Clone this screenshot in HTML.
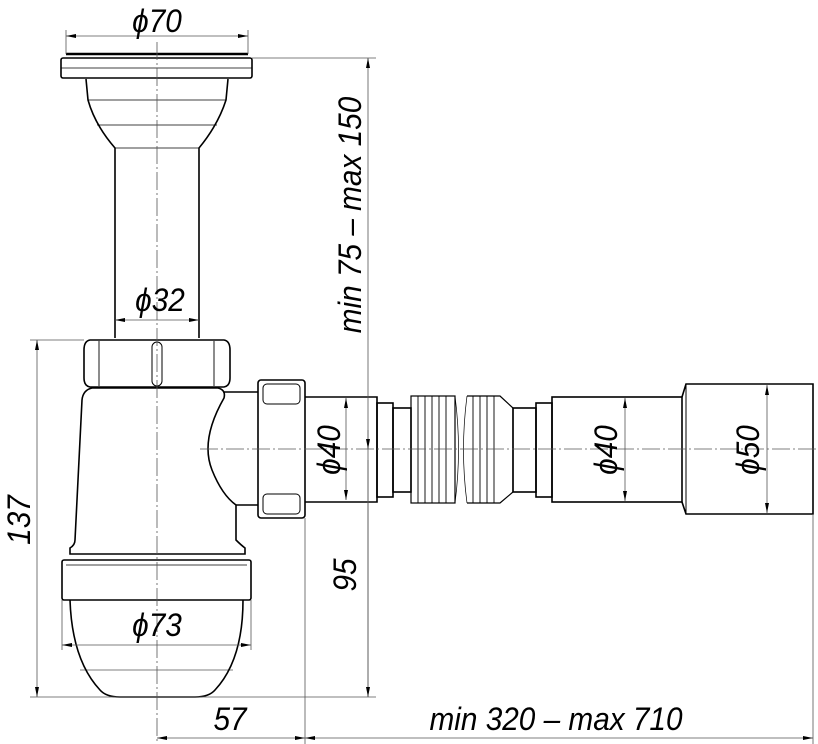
<!DOCTYPE html>
<html><head><meta charset="utf-8"><style>
html,body{margin:0;padding:0;background:#fff;}
svg{display:block;}
text{font-family:"Liberation Sans",sans-serif;font-style:italic;fill:#000;}
</style></head><body>
<svg width="818" height="744" viewBox="0 0 818 744" xmlns="http://www.w3.org/2000/svg">
<defs>
<marker id="a" viewBox="0 0 10 4" refX="10" refY="2" markerWidth="12" markerHeight="4" markerUnits="userSpaceOnUse" orient="auto-start-reverse"><path d="M0,0 L10,2 L0,4 z" fill="#000"/></marker>
</defs>
<g stroke="#000" fill="none" stroke-width="1.6">
<line x1="66" y1="54" x2="248" y2="54" stroke-width="2.5"/>
<rect x="61" y="58" width="191" height="20" rx="2"/>
<line x1="61" y1="68" x2="252" y2="68" stroke-width="0.8"/>
<path d="M86,79 L88,100 Q95,125 115,148 L115,338 M228,79 L226,100 Q218,125 199,148 L199,338"/>
<line x1="88" y1="100" x2="226" y2="100" stroke-width="0.7"/>
<line x1="97" y1="125" x2="217" y2="125" stroke-width="0.7"/>
<line x1="115" y1="148" x2="199" y2="148" stroke-width="0.7"/>
<path d="M90,340 L224,340 Q230,341 230,350 L230,378 Q230,386 224,387 L90,387 Q84,386 84,378 L84,350 Q84,341 90,340 Z"/>
<line x1="99" y1="341" x2="99" y2="386" stroke-width="0.9"/>
<line x1="214" y1="341" x2="214" y2="386" stroke-width="0.9"/>
<rect x="152" y="342" width="10" height="44" rx="5" stroke-width="1"/>
<path d="M92,388 L218,388 Q226,390 224,398 Q200,440 212,470 Q222,495 236,505 L236,540 Q241,545 245,548 L245,554 L70,554 L70,548 Q75,545 75,540 L82,400 Q83,390 92,388 Z"/>
<line x1="224" y1="392" x2="258" y2="392"/>
<line x1="236" y1="505" x2="258" y2="505"/>
<rect x="62" y="560" width="189" height="40" rx="2"/>
<line x1="66" y1="565" x2="247" y2="565" stroke-width="0.8"/>
<path d="M70,600 Q72,660 100,690 Q106,697 120,697 L195,697 Q209,697 215,690 Q243,660 243,600"/>
<line x1="80" y1="670" x2="233" y2="670" stroke-width="0.6"/>
<rect x="258" y="380" width="47" height="138" rx="3"/>
<rect x="263" y="384" width="37" height="20" rx="4" stroke-width="1"/>
<rect x="263" y="494" width="37" height="20" rx="4" stroke-width="1"/>
<path d="M305,397 L377,397 L377,502 L305,502"/>
<rect x="377" y="403" width="16" height="94"/>
<rect x="393" y="408" width="18" height="84"/>
<rect x="411" y="396" width="44" height="107" stroke-width="1.2"/>
<g stroke-width="0.9"><line x1="418" y1="396" x2="418" y2="503"/><line x1="425" y1="396" x2="425" y2="503"/><line x1="432" y1="396" x2="432" y2="503"/><line x1="439" y1="396" x2="439" y2="503"/><line x1="446" y1="396" x2="446" y2="503"/>
<line x1="473" y1="396" x2="473" y2="503"/><line x1="480" y1="396" x2="480" y2="503"/><line x1="487" y1="396" x2="487" y2="503"/><line x1="494" y1="396" x2="494" y2="503"/></g>
<path d="M467,396 L500,396 L513,408 L513,492 L500,503 L467,503" stroke-width="1.2"/>
<path d="M455,396 Q462,450 455,503 M467,396 Q460,450 467,503" stroke-width="0.7"/>
<rect x="513" y="408" width="23" height="84"/>
<rect x="536" y="403" width="16" height="94"/>
<rect x="552" y="397" width="130" height="105"/>
<path d="M682,397 L686,384 L813,384 L813,514 L686,514 L682,502"/>
<line x1="686" y1="384" x2="686" y2="514" stroke-width="1"/>
</g>
<g stroke="#555" fill="none" stroke-width="0.8">
<line x1="157" y1="42" x2="157" y2="744" stroke-dasharray="18,3,2,3"/>
<line x1="200" y1="449" x2="818" y2="449" stroke-dasharray="18,3,2,3"/>
<line x1="66" y1="30" x2="66" y2="54"/><line x1="248" y1="30" x2="248" y2="54"/>
<line x1="66" y1="36" x2="248" y2="36" marker-start="url(#a)" marker-end="url(#a)"/>
<line x1="115" y1="320" x2="199" y2="320" marker-start="url(#a)" marker-end="url(#a)"/>
<line x1="252" y1="58" x2="376" y2="58"/>
<line x1="368" y1="58" x2="368" y2="340" marker-start="url(#a)"/>
<line x1="368" y1="340" x2="368" y2="697"/>
<line x1="368" y1="430" x2="368" y2="449" marker-end="url(#a)"/>
<line x1="368" y1="460" x2="368" y2="697" marker-end="url(#a)"/>
<line x1="30" y1="340" x2="84" y2="340"/>
<line x1="30" y1="697" x2="376" y2="697"/>
<line x1="37" y1="340" x2="37" y2="697" marker-start="url(#a)" marker-end="url(#a)"/>
<line x1="62" y1="600" x2="62" y2="650"/><line x1="251" y1="600" x2="251" y2="650"/>
<line x1="62" y1="645" x2="251" y2="645" marker-start="url(#a)" marker-end="url(#a)"/>
<line x1="346" y1="398" x2="346" y2="500" marker-start="url(#a)" marker-end="url(#a)"/>
<line x1="625" y1="398" x2="625" y2="501" marker-start="url(#a)" marker-end="url(#a)"/>
<line x1="767" y1="385" x2="767" y2="513" marker-start="url(#a)" marker-end="url(#a)"/>
<line x1="305" y1="518" x2="305" y2="744"/>
<line x1="813" y1="514" x2="813" y2="744"/>
<line x1="157" y1="738" x2="305" y2="738" marker-start="url(#a)" marker-end="url(#a)"/>
<line x1="305" y1="738" x2="813" y2="738" marker-start="url(#a)" marker-end="url(#a)"/>
</g>
<g font-size="32">
<text text-anchor="middle" transform="translate(157,32) scale(0.93,1)">ϕ70</text>
<text text-anchor="middle" transform="translate(160,311) scale(0.93,1)">ϕ32</text>
<text text-anchor="middle" transform="translate(157,636) scale(0.93,1)">ϕ73</text>
<text text-anchor="middle" transform="translate(230,730) scale(0.93,1)">57</text>
<text text-anchor="middle" transform="translate(556,730) scale(0.93,1)">min 320 – max 710</text>
<text transform="translate(361,215) rotate(-90) scale(0.93,1)" text-anchor="middle">min 75 – max 150</text>
<text transform="translate(356,575) rotate(-90) scale(0.93,1)" text-anchor="middle">95</text>
<text transform="translate(30,520) rotate(-90) scale(0.93,1)" text-anchor="middle">137</text>
<text transform="translate(340,450) rotate(-90) scale(0.93,1)" text-anchor="middle">ϕ40</text>
<text transform="translate(617,450) rotate(-90) scale(0.93,1)" text-anchor="middle">ϕ40</text>
<text transform="translate(759,450) rotate(-90) scale(0.93,1)" text-anchor="middle">ϕ50</text>
</g>
</svg>
</body></html>
